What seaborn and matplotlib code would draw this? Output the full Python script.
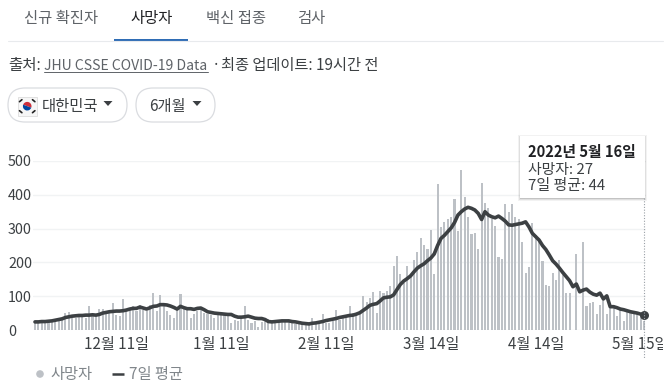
# Korea covid deaths chart
import matplotlib
matplotlib.use('Agg')
import matplotlib.pyplot as plt
from matplotlib.patches import FancyBboxPatch, Rectangle, Circle, Wedge, Polygon
from matplotlib.transforms import Bbox
import pandas as pd
import seaborn as sns

deaths = [26,24,24,28,27,25,30,29,32,50,
          54,37,36,38,39,36,70,40,44,62,
          62,55,52,80,44,41,93,58,62,70,
          55,75,58,55,75,108,56,104,70,55,
          45,36,62,107,68,62,35,48,55,65,
          50,47,45,35,45,44,45,45,22,30,
          27,38,72,30,22,26,10,25,32,32,
          28,28,30,30,30,25,22,18,20,22,
          18,18,35,22,18,48,22,22,28,60,
          30,35,35,70,50,45,50,100,82,95,
          112,50,115,110,115,130,188,218,165,140,
          188,160,208,232,271,251,240,296,166,431,
          304,320,327,333,387,293,473,394,335,283,
          288,239,434,377,361,327,308,217,210,373,
          350,373,333,328,261,170,186,318,280,271,
          205,133,130,168,148,208,163,110,110,0,
          226,0,259,70,81,83,48,73,98,48,
          68,66,40,58,28,58,52,50,48,40,27]
avg7 = [24,24,25,25,26,27,29,31,33,37,
        39,41,42,43,43,44,44,45,44,46,
        50,52,54,55,56,56,57,59,62,64,
        64,68,65,62,66,70,71,75,75,74,
        71,67,62,70,66,63,63,61,64,65,
        60,54,52,50,49,48,47,46,46,41,
        38,38,39,41,38,35,34,34,31,25,
        24,25,26,27,27,27,25,24,22,20,
        19,18,20,21,23,25,28,30,32,34,
        37,39,41,43,44,47,51,58,65,73,
        76,78,86,95,97,98,104,120,135,145,
        152,160,172,183,190,196,205,213,225,250,
        271,280,291,302,318,340,350,358,363,360,
        355,345,327,350,340,335,332,337,330,322,
        311,310,312,314,316,320,305,286,276,266,
        250,238,222,205,195,183,170,158,146,128,
        136,113,118,121,112,106,103,109,92,101,
        69,69,66,62,60,57,54,52,50,47,44]
tick_days = [24, 55, 86, 117, 148, 179]
tick_labels = ['12월 11일', '1월 11일', '2월 11일', '3월 14일', '4월 14일', '5월 15일']
y_ticks = [0, 100, 200, 300, 400, 500]
tabs = ['신규 확진자', '사망자', '백신 접종', '검사']

df = pd.DataFrame({'day': range(len(deaths)), 'deaths': deaths, 'avg7': avg7})

sns.set_style('white')
plt.rcParams['font.family'] = ['Noto Sans CJK KR', 'DejaVu Sans']

W, H = 671, 390
fig = plt.figure(figsize=(W / 100, H / 100), dpi=100)
ax = fig.add_axes([33.3 / W, 60 / H, 612.4 / W, 169 / H])

sns.barplot(data=df, x='day', y='deaths', native_scale=True, color='#bdc1c6',
            width=0.62, saturation=1, linewidth=0, ax=ax, zorder=2)
sns.lineplot(data=df, x='day', y='avg7', color='#3c4043', linewidth=2.6,
             ax=ax, zorder=3, clip_on=False)
sns.scatterplot(x=df['day'].iloc[[-1]], y=df['avg7'].iloc[[-1]], color='#3c4043',
                s=42, linewidth=0, ax=ax, zorder=4, clip_on=False)

ax.set_xlim(-0.5, 180.5)
ax.set_ylim(0, 500)
ax.set_xlabel('')
ax.set_ylabel('')
ax.set_xticks(tick_days)
ax.set_xticklabels(tick_labels)
ax.set_yticks(y_ticks)
ax.grid(axis='y', color='#f1f3f4', linewidth=1)
ax.set_axisbelow(True)
sns.despine(ax=ax, left=True, bottom=True)
ax.tick_params(axis='x', length=0, pad=4.5, labelsize=10.9, labelcolor='#3c4043')
ax.tick_params(axis='y', length=0, pad=18.2, labelsize=10.3, labelcolor='#3c4043')
for t in ax.get_yticklabels():
    t.set_ha('left')
for t in ax.get_xticklabels():
    t.set_clip_box(Bbox([[0, 0], [663, 390]]))
    t.set_clip_on(True)

# page furniture, in pixel coordinates
ui = fig.add_axes([0, 0, 1, 1], facecolor='none')
ui.set_xlim(0, W)
ui.set_ylim(H, 0)
ui.axis('off')

for label, x, col, wt in zip(tabs, [61.5, 152, 235.5, 311.5],
                             ['#5f6368', '#202124', '#5f6368', '#5f6368'],
                             ['normal', 'medium', 'normal', 'normal']):
    ui.text(x, 19, label, ha='center', va='center', fontsize=11.1, color=col, fontweight=wt)
ui.plot([8, 663], [41, 41], color='#e8eaed', lw=0.8)
ui.add_patch(Rectangle((114, 39), 74, 2.2, color='#2f6db5', lw=0))

ui.text(8, 65.5, '출처:', va='center', fontsize=11.2, color='#3c4043')
ui.text(44, 65.5, 'JHU CSSE COVID-19 Data', va='center', fontsize=10.1, color='#5f6368')
ui.plot([44, 208], [71.5, 71.5], color='#5f6368', lw=0.7)
ui.text(212, 65.5, '·', va='center', fontsize=11, color='#3c4043')
ui.text(221, 65.5, '최종 업데이트: 19시간 전', va='center', fontsize=11, color='#3c4043')

# dropdown pills
for x0, x1 in [(8, 127), (136, 215)]:
    ui.add_patch(FancyBboxPatch((x0 + 17, 88 + 17), x1 - x0 - 34, 0.01,
                                boxstyle='round,pad=17', fc='white', ec='#dadce0', lw=0.9))
ui.text(42, 107, '대한민국', va='center', fontsize=11.1, color='#3c4043')
ui.text(149, 107, '6개월', va='center', fontsize=11, color='#3c4043')
for cx in [108, 197]:
    ui.add_patch(Polygon([(cx - 4.5, 101), (cx + 4.5, 101), (cx, 106)], color='#3c4043', lw=0))

# flag
ui.add_patch(Rectangle((18, 97), 18.5, 18.5, fc='#f6f6f6', ec='#dddddd', lw=0.6))
ui.add_patch(Wedge((27.2, 106.2), 4.3, 200, 20, color='#cd2e3a', lw=0))
ui.add_patch(Wedge((27.2, 106.2), 4.3, 20, 200, color='#0047a0', lw=0))
for dx, dy in [(-6.5, -5.5), (6.5, -5.5), (-6.5, 5.5), (6.5, 5.5)]:
    ui.plot([27.2 + dx - 1.2, 27.2 + dx + 1.2], [106.2 + dy + 1 * (1 if dx * dy > 0 else -1),
                                                 106.2 + dy - 1 * (1 if dx * dy > 0 else -1)],
            color='#222222', lw=1.2)

# hover line and tooltip
ui.plot([644, 644], [198, 358], color='#9aa0a6', lw=0.8, ls=(0, (1, 1.5)))
for off, a in [(3, 0.05), (2, 0.08), (1, 0.12)]:
    ui.add_patch(Rectangle((520 - off + 1, 136 - off + 2), 125 + 2 * off - 2, 62 + 2 * off - 2,
                           fc='#000000', alpha=a, lw=0))
ui.add_patch(Rectangle((520, 136), 125, 62, fc='white', lw=0))
ui.text(528, 152, '2022년 5월 16일', va='center', fontsize=10.6, color='#202124', fontweight='bold')
ui.text(528, 170, '사망자: 27', va='center', fontsize=10.7, color='#3c4043')
ui.text(528, 186, '7일 평균: 44', va='center', fontsize=10.8, color='#3c4043')

# legend
ui.add_patch(Circle((40, 374), 3.8, color='#bdc1c6', lw=0))
ui.text(50, 375, '사망자', va='center', fontsize=11, color='#80868b')
ui.plot([112, 124], [374, 374], color='#3c4043', lw=1.8, solid_capstyle='butt')
ui.text(129, 375, '7일 평균', va='center', fontsize=11, color='#80868b')

fig.savefig('out.png', dpi=100)
